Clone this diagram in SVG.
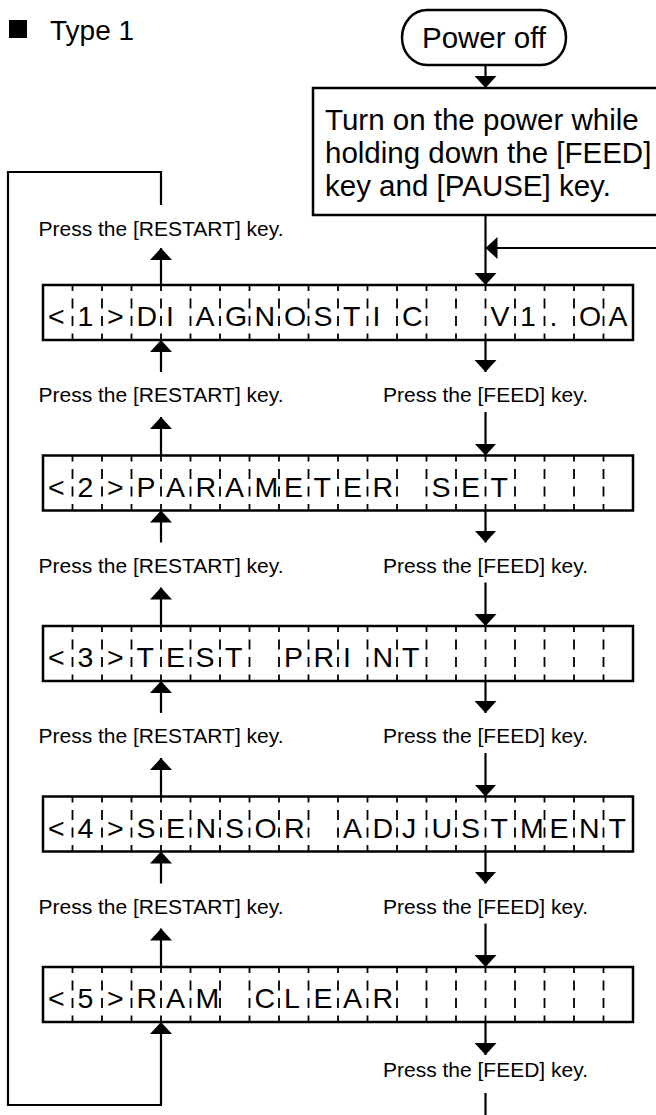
<svg xmlns="http://www.w3.org/2000/svg" xmlns:xlink="http://www.w3.org/1999/xlink" width="656" height="1115" viewBox="0 0 656 1115">
<style>
.t{font-family:"Liberation Sans",Arial,sans-serif;fill:#000}
.lbl{font-size:21px;text-anchor:middle}
.big{font-size:29.5px}
.lcdt{font-size:28.5px;white-space:pre}
.box{fill:#fff;stroke:#000;stroke-width:2.5}
.ln{fill:none;stroke:#000;stroke-width:2.2}
.dv{stroke:#000;stroke-width:1.8;stroke-dasharray:6 7.5 10 7.5 10 7.5 6.5 20}
</style>
<defs>
<marker id="ah" viewBox="0 0 12 22" refX="12" refY="11" markerWidth="12" markerHeight="22" markerUnits="userSpaceOnUse" orient="auto">
<path d="M0,0 L12,11 L0,22 Z" fill="#000"/>
</marker>
<g id="lcd">
<rect class="box" x="43" y="0" width="590" height="55"/>
<path class="dv" d="M72.5,0V55M102,0V55M131.5,0V55M161,0V55M190.5,0V55M220,0V55M249.5,0V55M279,0V55M308.5,0V55M338,0V55M367.5,0V55M397,0V55M426.5,0V55M456,0V55M485.5,0V55M515,0V55M544.5,0V55M574,0V55M603.5,0V55"/>
</g>
</defs>
<rect width="656" height="1115" fill="#fff"/>

<g id="title">
<rect x="9" y="20" width="18" height="18" fill="#000"/>
<text class="t" x="50" y="40" font-size="28">Type 1</text>
</g>

<g id="power-off">
<rect class="box" x="402" y="10" width="164" height="55" rx="25" ry="27.5"/>
<text class="t big" x="484" y="48" text-anchor="middle">Power off</text>
</g>

<g id="power-on-box">
<rect class="box" x="313" y="88" width="360" height="127"/>
<text class="t big" x="325" y="130">Turn on the power while</text>
<text class="t big" x="325" y="163">holding down the [FEED]</text>
<text class="t big" x="325" y="196">key and [PAUSE] key.</text>
</g>

<g id="lcd1">
<use xlink:href="#lcd" href="#lcd" y="285"/>
<text class="t lcdt" xml:space="preserve" y="326" x="48 77.5 107 136.5 166 195.5 225 254.5 284 313.5 343 372.5 402 431.5 461 490.5 520 549.5 579 608.5">&lt;1&gt;DIAGNOSTIC  V1.OA</text>
</g>
<g id="lcd2">
<use xlink:href="#lcd" href="#lcd" y="455.5"/>
<text class="t lcdt" xml:space="preserve" y="496.5" x="48 77.5 107 136.5 166 195.5 225 254.5 284 313.5 343 372.5 402 431.5 461 490.5 520 549.5 579 608.5">&lt;2&gt;PARAMETER SET</text>
</g>
<g id="lcd3">
<use xlink:href="#lcd" href="#lcd" y="626"/>
<text class="t lcdt" xml:space="preserve" y="667" x="48 77.5 107 136.5 166 195.5 225 254.5 284 313.5 343 372.5 402 431.5 461 490.5 520 549.5 579 608.5">&lt;3&gt;TEST PRINT</text>
</g>
<g id="lcd4">
<use xlink:href="#lcd" href="#lcd" y="796.5"/>
<text class="t lcdt" xml:space="preserve" y="837.5" x="48 77.5 107 136.5 166 195.5 225 254.5 284 313.5 343 372.5 402 431.5 461 490.5 520 549.5 579 608.5">&lt;4&gt;SENSOR ADJUSTMENT</text>
</g>
<g id="lcd5">
<use xlink:href="#lcd" href="#lcd" y="967"/>
<text class="t lcdt" xml:space="preserve" y="1008" x="48 77.5 107 136.5 166 195.5 225 254.5 284 313.5 343 372.5 402 431.5 461 490.5 520 549.5 579 608.5">&lt;5&gt;RAM CLEAR</text>
</g>

<g id="labels">
<text class="t lbl" x="161" y="236">Press the [RESTART] key.</text>
<text class="t lbl" x="161" y="402">Press the [RESTART] key.</text>
<text class="t lbl" x="161" y="572.5">Press the [RESTART] key.</text>
<text class="t lbl" x="161" y="743">Press the [RESTART] key.</text>
<text class="t lbl" x="161" y="913.5">Press the [RESTART] key.</text>
<text class="t lbl" x="485.5" y="402">Press the [FEED] key.</text>
<text class="t lbl" x="485.5" y="572.5">Press the [FEED] key.</text>
<text class="t lbl" x="485.5" y="743">Press the [FEED] key.</text>
<text class="t lbl" x="485.5" y="913.5">Press the [FEED] key.</text>
<text class="t lbl" x="485.5" y="1077">Press the [FEED] key.</text>
</g>

<g id="connectors">
<path class="ln" d="M485.5,65V88" marker-end="url(#ah)"/>
<path class="ln" d="M485.5,215V285" marker-end="url(#ah)"/>
<path class="ln" d="M660,248H485.5" marker-end="url(#ah)"/>
<path class="ln" d="M161,285V248" marker-end="url(#ah)"/>
<path class="ln" d="M161,205V172H8V1105H161V1022" marker-end="url(#ah)"/>
<path class="ln" d="M161,372V340" marker-end="url(#ah)"/>
<path class="ln" d="M161,455.5V417" marker-end="url(#ah)"/>
<path class="ln" d="M485.5,340V372" marker-end="url(#ah)"/>
<path class="ln" d="M485.5,412V455.5" marker-end="url(#ah)"/>
<path class="ln" d="M161,542.5V510.5" marker-end="url(#ah)"/>
<path class="ln" d="M161,626V587.5" marker-end="url(#ah)"/>
<path class="ln" d="M485.5,510.5V542.5" marker-end="url(#ah)"/>
<path class="ln" d="M485.5,582.5V626" marker-end="url(#ah)"/>
<path class="ln" d="M161,713V681" marker-end="url(#ah)"/>
<path class="ln" d="M161,796.5V758" marker-end="url(#ah)"/>
<path class="ln" d="M485.5,681V713" marker-end="url(#ah)"/>
<path class="ln" d="M485.5,753V796.5" marker-end="url(#ah)"/>
<path class="ln" d="M161,883.5V851.5" marker-end="url(#ah)"/>
<path class="ln" d="M161,967V928.5" marker-end="url(#ah)"/>
<path class="ln" d="M485.5,851.5V883.5" marker-end="url(#ah)"/>
<path class="ln" d="M485.5,923.5V967" marker-end="url(#ah)"/>
<path class="ln" d="M485.5,1022V1055" marker-end="url(#ah)"/>
<path class="ln" d="M485.5,1093V1115"/>
</g>
</svg>
